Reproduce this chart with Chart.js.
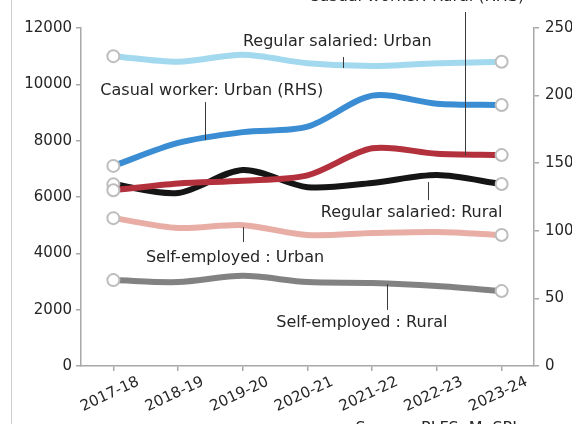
<!DOCTYPE html>
<html>
<head>
<meta charset="utf-8">
<script src="https://cdn.jsdelivr.net/npm/chart.js@4.4.1/dist/chart.umd.min.js"></script>
<style>
  html, body { margin: 0; padding: 0; background: #ffffff; }
  #wrap { width: 572px; height: 424px; position: relative; overflow: hidden; }
</style>
</head>
<body>
<div id="wrap"><canvas id="c" width="572" height="424"></canvas></div>
<script>
// Survey years
const years = ['2017-18', '2018-19', '2019-20', '2020-21', '2021-22', '2022-23', '2023-24'];

// Monthly earnings (left axis)
const regularUrban = [11000, 10800, 11050, 10750, 10650, 10750, 10800];
const regularRural = [6450, 6140, 6960, 6350, 6500, 6780, 6460];
const selfUrban    = [5250, 4900, 5000, 4650, 4720, 4760, 4650];
const selfRural    = [3050, 2980, 3200, 2980, 2950, 2840, 2660];

// Daily wages of casual workers (right axis)
const casualUrban  = [148, 165, 173, 177, 200, 194, 193];
const casualRural  = [130, 135, 137, 141, 161, 157, 156];

// Axis ticks
const leftTicks  = [0, 2000, 4000, 6000, 8000, 10000, 12000];
const rightTicks = [0, 50, 100, 150, 200, 250];

const FONT = 'DejaVu Sans';
const TXT = '#262626';
const AXIS = '#a8a8a8';

// Series labels with leader lines: x = category position, y = left-axis value
const notes = [
  { text: 'Regular salaried: Urban',    x: 3.46, y: 11500, lx: 3.55, ly1: 10970, ly2: 10580 },
  { text: 'Casual worker: Urban (RHS)', x: 1.52, y: 9760,  lx: 1.42, ly1: 9370,  ly2: 8020 },
  { text: 'Casual worker: Rural (RHS)', x: 4.68, y: 13120, lx: 5.43, ly1: 12570, ly2: 7490 },
  { text: 'Regular salaried: Rural',    x: 4.61, y: 5430,  lx: 4.86, ly1: 6530,  ly2: 5890 },
  { text: 'Self-employed : Urban',      x: 1.88, y: 3830,  lx: 2.00, ly1: 4930,  ly2: 4400 },
  { text: 'Self-employed : Rural',      x: 3.84, y: 1530,  lx: 4.23, ly1: 2910,  ly2: 1990 },
  { text: 'Source: PLFS, MoSPI',        x: 4.99, y: -2230 }
];

const endMarkers = years.map((_, i) => (i === 0 || i === years.length - 1) ? 6 : 0);

function series(label, data, color, axis, order) {
  return {
    label, data, yAxisID: axis, order,
    borderColor: color, backgroundColor: color,
    borderWidth: 6, tension: 0.3, fill: false,
    pointRadius: endMarkers, pointHoverRadius: endMarkers,
    pointBackgroundColor: '#ffffff', pointBorderColor: '#bdbdbd', pointBorderWidth: 2
  };
}

const notesPlugin = {
  id: 'seriesNotes',
  afterDraw(chart) {
    const ctx = chart.ctx;
    const xs = chart.scales.x, ys = chart.scales.y;
    ctx.save();
    // frame line on the left edge
    ctx.strokeStyle = '#cfcfcf';
    ctx.lineWidth = 1;
    ctx.beginPath(); ctx.moveTo(11.5, 0); ctx.lineTo(11.5, chart.height); ctx.stroke();
    ctx.strokeStyle = '#3a3a3a';
    ctx.fillStyle = TXT;
    ctx.font = '16px "' + FONT + '"';
    ctx.textAlign = 'center';
    ctx.textBaseline = 'middle';
    notes.forEach(n => {
      if (n.lx !== undefined) {
        const px = Math.round(xs.getPixelForValue(n.lx)) + 0.5;
        ctx.beginPath();
        ctx.moveTo(px, ys.getPixelForValue(n.ly1));
        ctx.lineTo(px, ys.getPixelForValue(n.ly2));
        ctx.stroke();
      }
      ctx.fillText(n.text, xs.getPixelForValue(n.x), ys.getPixelForValue(n.y));
    });
    ctx.restore();
  }
};

const plainNumber = v => String(v);

new Chart(document.getElementById('c'), {
  type: 'line',
  data: {
    labels: years,
    datasets: [
      series('Regular salaried: Urban', regularUrban, '#a3d9ee', 'y', 6),
      series('Casual worker: Urban (RHS)', casualUrban, '#3a8dd3', 'y1', 1),
      series('Casual worker: Rural (RHS)', casualRural, '#b3313d', 'y1', 2),
      series('Regular salaried: Rural', regularRural, '#151515', 'y', 3),
      series('Self-employed : Urban', selfUrban, '#e8aea6', 'y', 5),
      series('Self-employed : Rural', selfRural, '#828282', 'y', 6)
    ]
  },
  options: {
    responsive: false,
    animation: false,
    devicePixelRatio: 1,
    layout: { padding: { top: 28, left: 0, right: 0, bottom: 0 } },
    plugins: { legend: { display: false }, tooltip: { enabled: false } },
    scales: {
      x: {
        type: 'category',
        offset: true,
        grid: { display: true, drawOnChartArea: false, offset: false, tickLength: 5, color: AXIS, lineWidth: 1.5 },
        border: { display: true, color: AXIS, width: 1.5 },
        ticks: {
          minRotation: 25, maxRotation: 25, labelOffset: 25, padding: 2,
          color: TXT, font: { family: FONT, size: 15 }
        },
        afterFit(s) { s.height = 58; }
      },
      y: {
        position: 'left',
        min: 0, max: 12000,
        afterBuildTicks(s) { s.ticks = leftTicks.map(v => ({ value: v })); },
        grid: { display: true, drawOnChartArea: false, tickLength: 5, color: AXIS, lineWidth: 1.5 },
        border: { display: true, color: AXIS, width: 1.5 },
        ticks: { padding: 4, color: TXT, font: { family: FONT, size: 15 }, callback: plainNumber },
        afterFit(s) { s.width = 81; }
      },
      y1: {
        position: 'right',
        min: 0, max: 250,
        afterBuildTicks(s) { s.ticks = rightTicks.map(v => ({ value: v })); },
        grid: { display: true, drawOnChartArea: false, tickLength: 5, color: AXIS, lineWidth: 1.5 },
        border: { display: true, color: AXIS, width: 1.5 },
        ticks: { padding: 6, color: TXT, font: { family: FONT, size: 15 }, callback: plainNumber },
        afterFit(s) { s.width = 38; }
      }
    }
  },
  plugins: [notesPlugin]
});
</script>
</body>
</html>
